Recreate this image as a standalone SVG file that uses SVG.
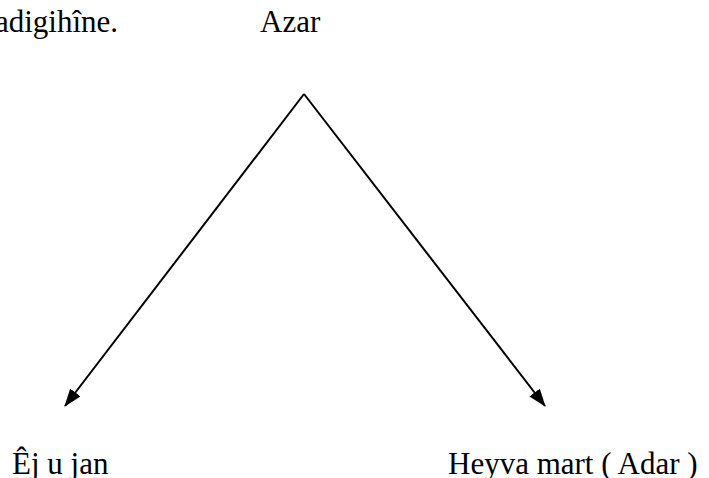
<svg xmlns="http://www.w3.org/2000/svg" width="709" height="478" viewBox="0 0 709 478">
<style>
.t{font-size:31px;fill:#000}
.c{stroke:#000;stroke-width:2;fill:none}
</style>
<defs>
<marker id="ah" viewBox="0 0 18 13" refX="17" refY="6.5" markerWidth="18" markerHeight="13" markerUnits="userSpaceOnUse" orient="auto">
<path d="M0,0 L18,6.5 L0,13 z" fill="#000"/>
</marker>
</defs>
<rect width="709" height="478" fill="#fff"/>
<g font-family="'Liberation Serif', serif">
<g id="caption"><text class="t" x="118" y="32" text-anchor="end">adigihîne.</text></g>
<g id="azar"><text class="t" x="260" y="32">Azar</text></g>
<g id="ej"><text class="t" x="12" y="474">Êj u jan</text></g>
<g id="heyva"><text class="t" x="448" y="474">Heyva mart ( Adar )</text></g>
</g>
<g id="connectors">
<path class="c" d="M304,94 L65,406" marker-end="url(#ah)"/>
<path class="c" d="M304,94 L545,406" marker-end="url(#ah)"/>
</g>
</svg>
